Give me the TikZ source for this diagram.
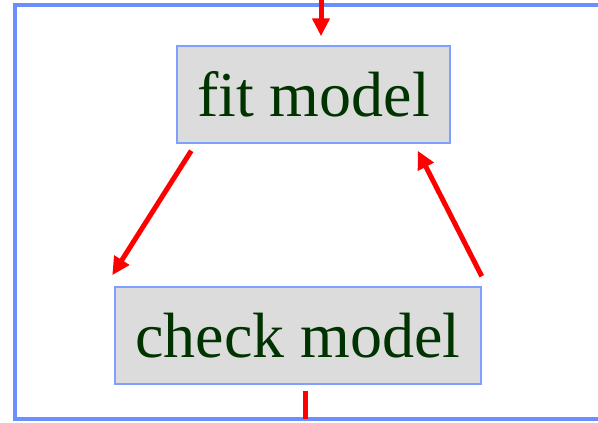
\documentclass[tikz,border=0pt]{standalone}
\usepackage{fontspec}
\setmainfont{Liberation Serif}
\usepackage{xcolor}
\usepackage{tikz}
\usetikzlibrary{arrows.meta, calc, positioning}

\definecolor{frameblue}{HTML}{6B8FFF}
\definecolor{boxblue}{HTML}{80A0FF}
\definecolor{boxgray}{HTML}{DCDCDC}
\definecolor{textgreen}{HTML}{003300}

\tikzset{
    stepbox/.style={draw=boxblue, line width=1.5pt, fill=boxgray, inner sep=0pt,
        text=textgreen, font=\fontsize{64}{70}\selectfont},
    flow/.style={red, line width=5pt, -{Triangle[length=18pt, width=17pt]}},
}

\begin{document}
\begin{tikzpicture}[x=1pt, y=-1pt]

    % khung ngoai
    \useasboundingbox (0,0) rectangle (598,423);
    \fill[white] (0,0) rectangle (598,423);
    \draw[frameblue, line width=4pt] (598,5) -- (15,5) -- (15,419) -- (598,419);

    % hai hop
    \node[stepbox, minimum width=273pt, minimum height=97pt] (fit) at (313.5,94.5) {fit model};
    \node[stepbox, minimum width=366pt, minimum height=97pt] (check) at (298,335.5) {check model};

    % dau vao va dau ra
    \coordinate (In) at (321,0);
    \coordinate (Out) at (305,419);

    % cac mui ten
    \draw[flow] (In) -- ([xshift=7.5pt, yshift=9pt]fit.north);
    \draw[flow] ([xshift=15pt, yshift=-7pt]fit.south west) -- ([xshift=-2pt, yshift=11pt]check.north west);
    \draw[flow] ([yshift=10pt]check.north east) -- ([xshift=-33pt, yshift=-7pt]fit.south east);
    \draw[red, line width=5pt] ([xshift=7pt, yshift=-6pt]check.south) -- (Out);

\end{tikzpicture}
\end{document}
